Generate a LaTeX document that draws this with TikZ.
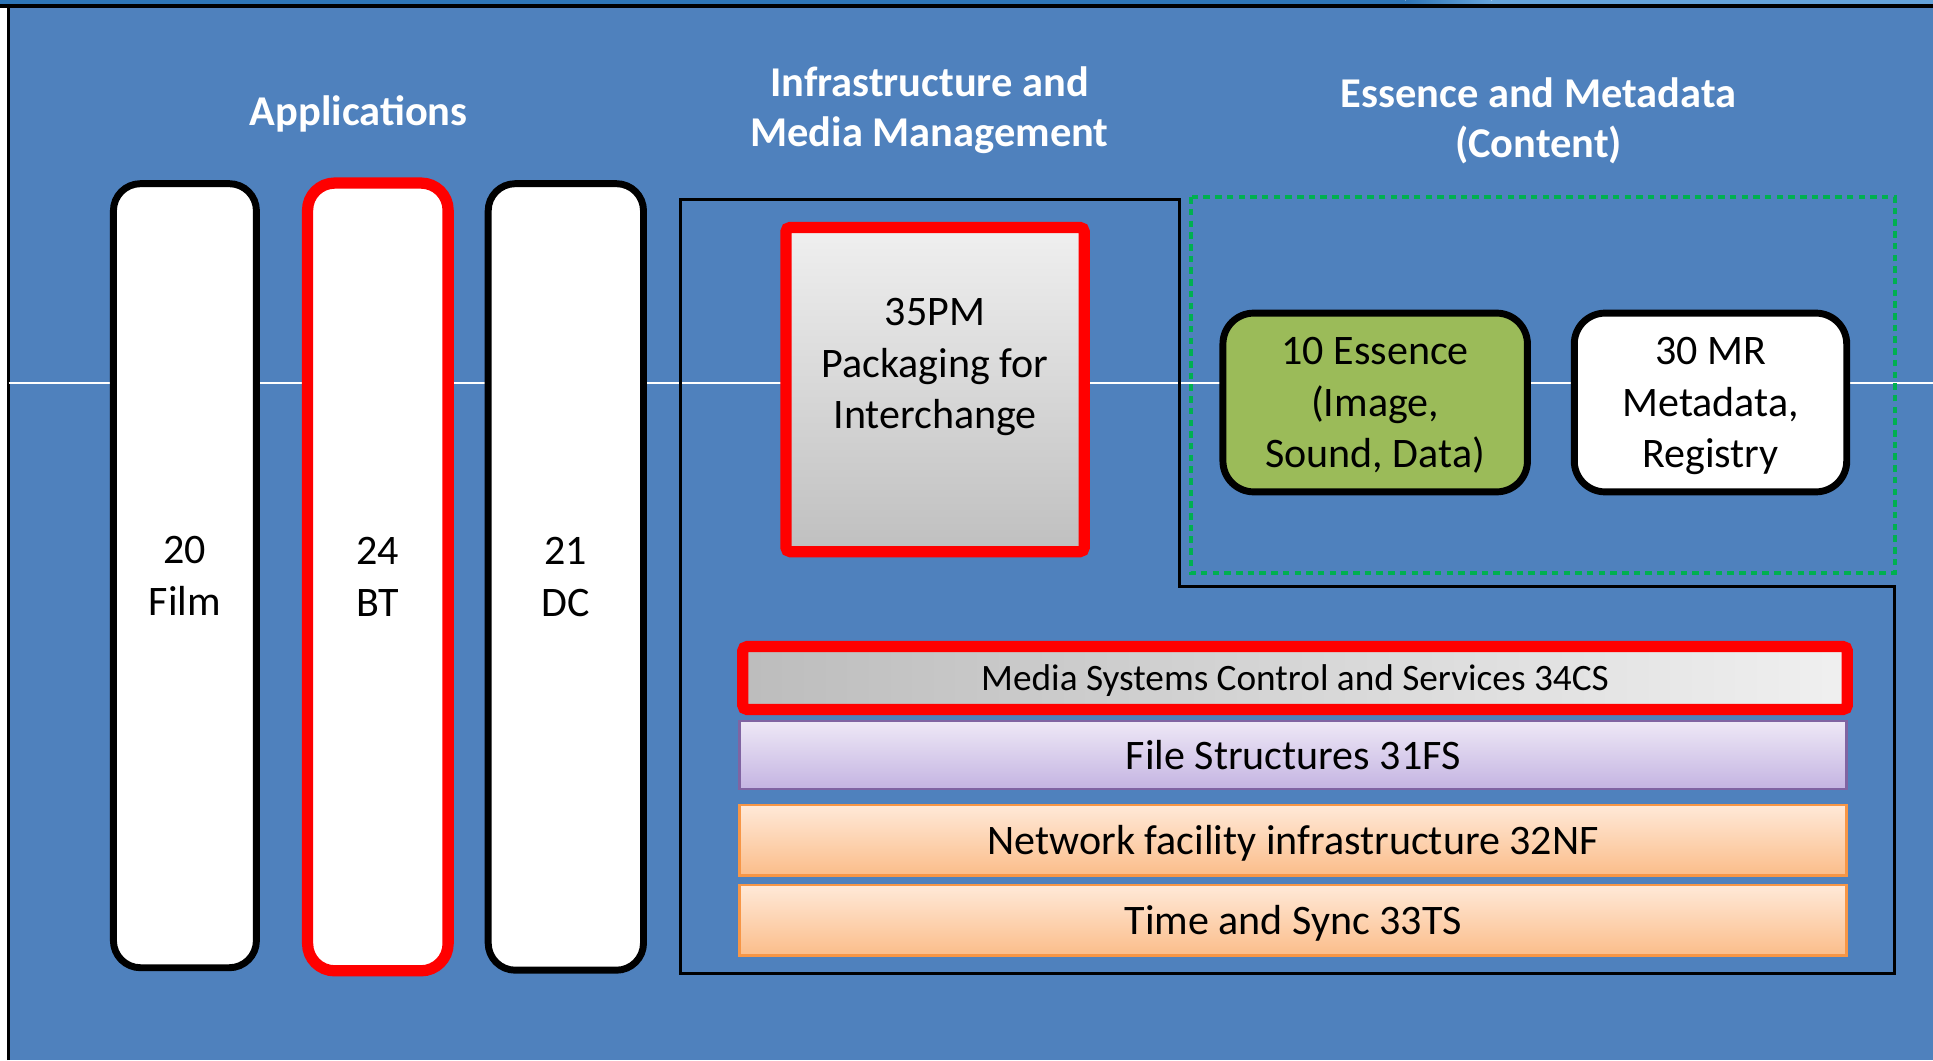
\documentclass[tikz,border=0pt]{standalone}
\usepackage{fontspec}
\setmainfont{Carlito}
\usetikzlibrary{positioning}
\definecolor{slideblue}{RGB}{79,129,189}
\definecolor{stripdark}{RGB}{46,117,182}
\definecolor{striplight}{RGB}{101,163,218}
\definecolor{essgreen}{RGB}{155,187,89}
\definecolor{dotgreen}{RGB}{0,176,80}
\definecolor{fspurple}{RGB}{128,100,162}
\definecolor{fstop}{RGB}{238,232,246}
\definecolor{fsbot}{RGB}{196,180,226}
\definecolor{nforange}{RGB}{247,150,70}
\definecolor{nftop}{RGB}{255,233,216}
\definecolor{nfbot}{RGB}{251,189,138}

\begin{document}
\begin{tikzpicture}[
  every node/.style={font=\fontsize{9.7}{11.9}\selectfont, text depth=0pt},
  title/.style={font=\fontsize{9.8}{11.7}\selectfont\bfseries, text=white, align=center},
  appbox/.style={draw=black, line width=1.6pt, fill=white, rounded corners=0.22cm,
                 inner sep=0pt, align=center},
  hotbox/.style={draw=red, line width=2.6pt},
  cbox/.style={draw=black, line width=1.6pt, rounded corners=0.25cm,
               inner sep=0pt, align=center},
  layer/.style={inner sep=0pt, minimum width=8.98cm, minimum height=0.57cm, line width=0.6pt}]
  \useasboundingbox (0,0) rectangle (15.68,8.60);

  % background of the slide
  \fill[white] (0,0) rectangle (0.07,8.55);
  \fill[slideblue] (0.07,0) rectangle (15.68,8.55);
  \fill[stripdark] (0,8.55) rectangle (11.40,8.60);
  \shade[left color=stripdark, right color=striplight] (11.40,8.55) rectangle (12.10,8.60);
  \fill[striplight] (12.10,8.55) rectangle (15.68,8.60);
  \draw[black, line width=0.8pt] (0,8.55) -- (15.68,8.55);
  \draw[black, line width=0.6pt] (0.07,0) -- (0.07,8.55);
  \draw[white, line width=0.5pt] (0.07,5.49) -- (15.68,5.49);

  % column titles
  \node[title] (tapps) at (2.91,7.70) {Applications};
  \node[title] (tinfra) at (7.54,7.735) {Infrastructure and\\Media Management};
  \node[title] (tcont) at (12.48,7.645) {Essence and Metadata\\(Content)};

  % LEFT: application columns
  \node[appbox, minimum width=1.16cm, minimum height=6.36cm] (film) at (1.50,3.93) {20\\Film};
  \node[appbox, hotbox, minimum width=1.14cm, minimum height=6.39cm] (bt) at (3.065,3.92) {24\\BT};
  \node[appbox, minimum width=1.26cm, minimum height=6.38cm] (dc) at (4.59,3.92) {21\\DC};

  % MIDDLE: infrastructure outline and packaging
  \draw[black, line width=0.7pt] (5.52,6.98) -- (9.57,6.98) -- (9.57,3.84)
    -- (15.37,3.84) -- (15.37,0.70) -- (5.52,0.70) -- cycle;
  \node[hotbox, rounded corners=1pt, top color=black!6, bottom color=black!25,
        minimum width=2.42cm, minimum height=2.63cm, inner sep=0pt] (pm) at (7.585,5.44) {};
  \node[align=center] (pmtext) at ([yshift=0.21cm]pm.center) {35PM\\Packaging for\\Interchange};

  % RIGHT: content
  \draw[dotgreen, line width=0.9pt, dash pattern=on 1.5pt off 1.2pt] (9.66,7.00) rectangle (15.37,3.95);
  \node[cbox, fill=essgreen, minimum width=2.47cm, minimum height=1.45cm] (ess) at (11.155,5.335)
    {10 Essence\\(Image,\\Sound, Data)};
  \node[cbox, fill=white, minimum width=2.21cm, minimum height=1.45cm] (mr) at (13.875,5.335)
    {30 MR\\Metadata,\\Registry};

  % BOTTOM: layers
  \node[layer, hotbox, rounded corners=1pt, left color=black!26, right color=black!6,
        minimum width=8.96cm, minimum height=0.51cm, line width=2.6pt,
        font=\fontsize{8.6}{10}\selectfont] (cs) at (10.505,3.10) {Media Systems Control and Services 34CS};
  \node[layer, draw=fspurple, top color=fstop, bottom color=fsbot, minimum height=0.55cm]
    (fs) at (10.49,2.475) {File Structures 31FS};
  \node[layer, draw=nforange, top color=nftop, bottom color=nfbot]
    (nf) at (10.49,1.785) {Network facility infrastructure 32NF};
  \node[layer, draw=nforange, top color=nftop, bottom color=nfbot]
    (ts) at (10.49,1.135) {Time and Sync 33TS};
\end{tikzpicture}
\end{document}
